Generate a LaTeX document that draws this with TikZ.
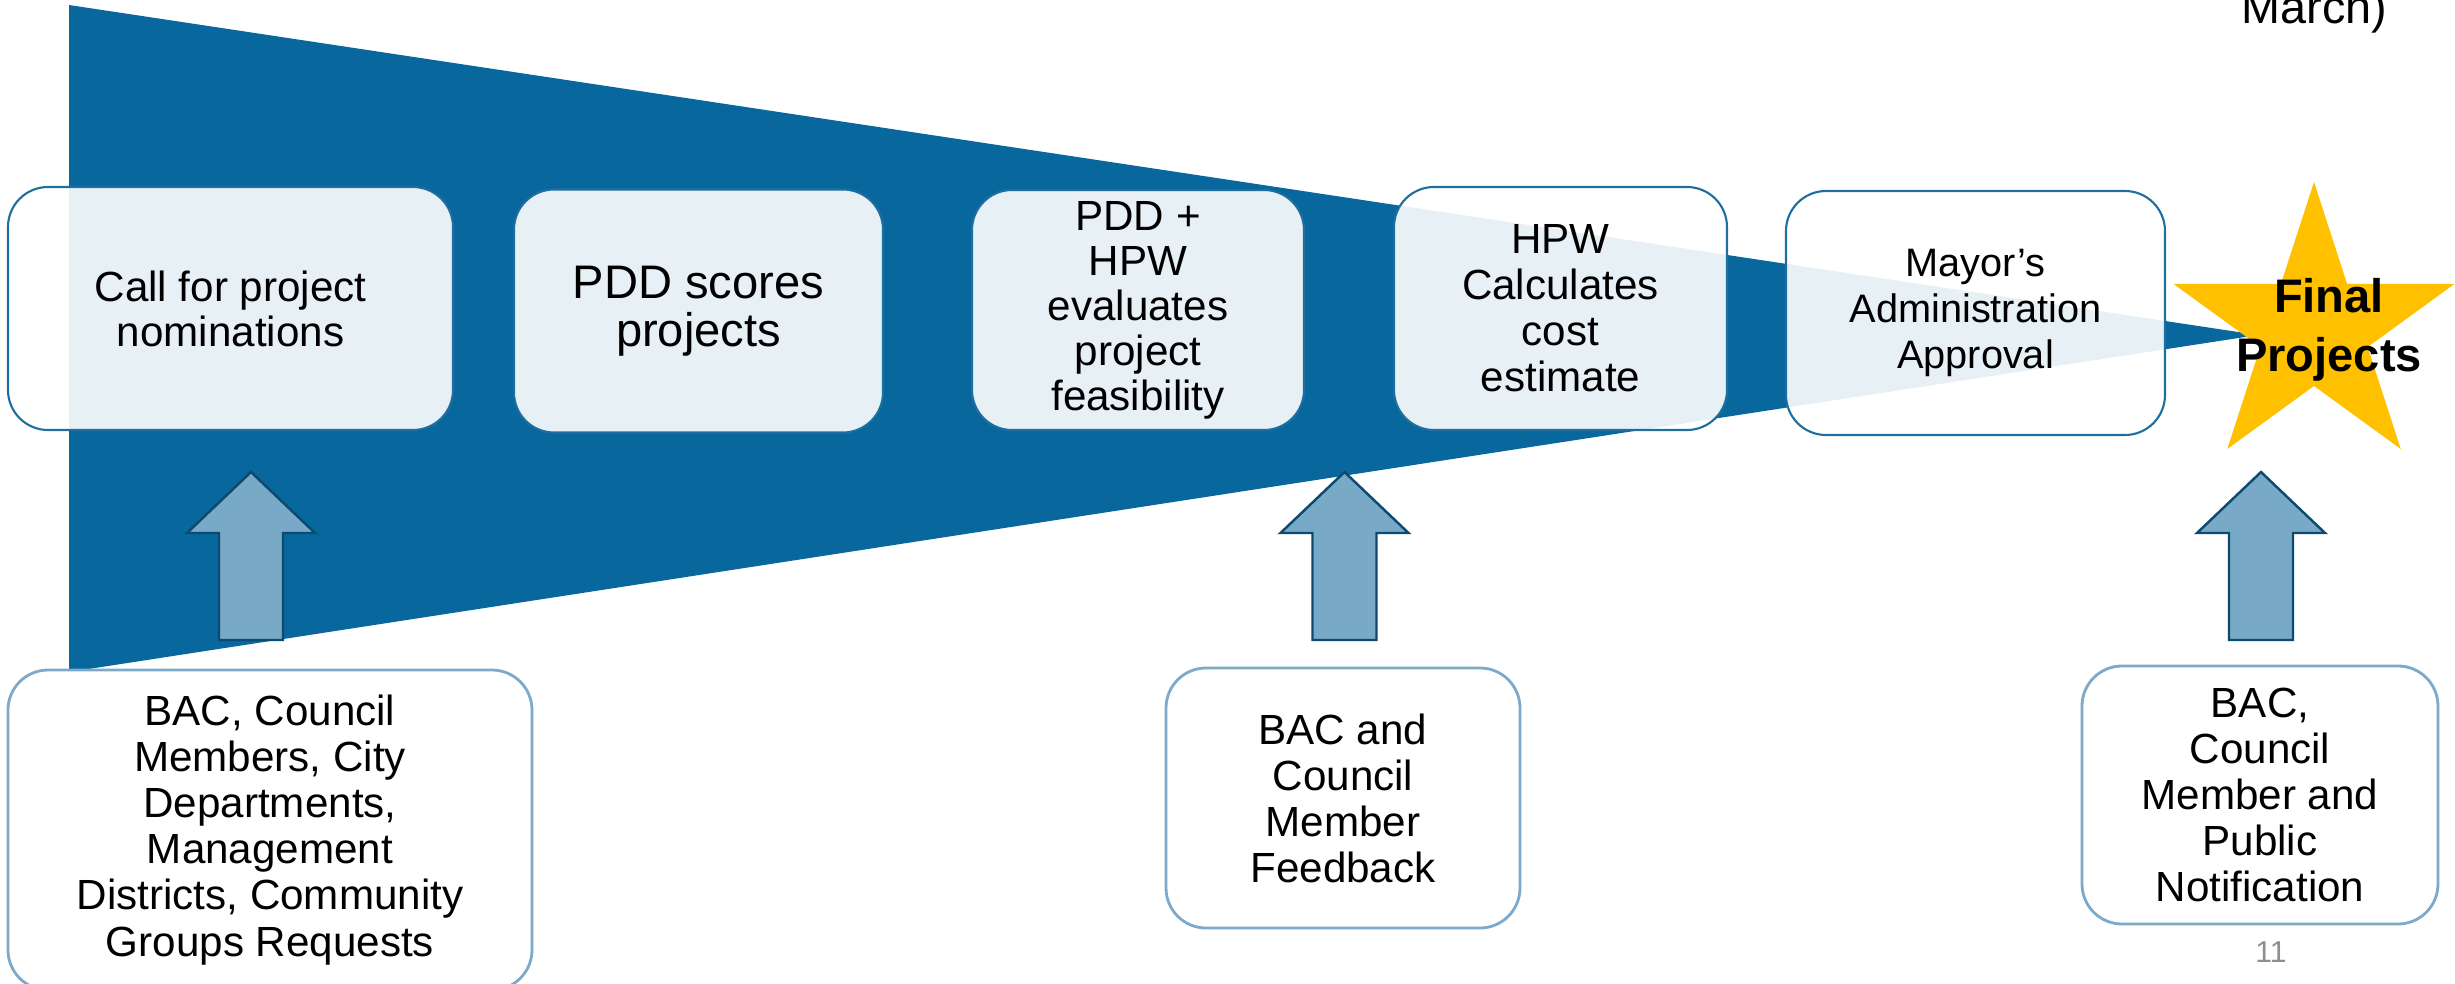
\documentclass[tikz,border=0pt]{standalone}
\usepackage{fontspec}
\setmainfont{Liberation Sans}
\usetikzlibrary{shapes.geometric,calc}
\definecolor{funnelblue}{RGB}{8,103,156}
\definecolor{boxline}{RGB}{30,110,160}
\definecolor{inputline}{RGB}{125,170,202}
\definecolor{arrowfill}{RGB}{120,169,199}
\definecolor{arrowline}{RGB}{13,74,112}
\definecolor{stargold}{RGB}{255,192,0}
\definecolor{pagegrey}{RGB}{143,143,143}
\tikzset{
  stagebox/.style={draw=boxline, line width=0.6pt, fill=white, fill opacity=0.9,
    text opacity=1, rounded corners=0.4cm, align=center, inner sep=0pt},
  inputbox/.style={draw=inputline, line width=0.8pt, fill=white,
    rounded corners=0.4cm, align=center, inner sep=0pt},
  blockarrow/.style={draw=arrowline, fill=arrowfill, line width=0.7pt, line join=miter},
}
\newcommand{\blockup}[2]{%
  \draw[blockarrow] ($(#1)+(-0.32,0)$) -- ($(#2)+(-0.32,-0.61)$) -- ++(-0.32,0)
    -- (#2) -- ++(0.64,-0.61) -- ++(-0.32,0) -- ($(#1)+(0.32,0)$) -- cycle;}
\begin{document}
\begin{tikzpicture}
  \useasboundingbox (0,0) rectangle (24.55,9.83);
  % funnel
  \fill[funnelblue] (0.69,9.78) -- (22.58,6.48) -- (0.69,3.11) -- cycle;
  % stages
  \node[stagebox, minimum width=4.45cm, minimum height=2.43cm,
    font=\fontsize{12}{12.8}\selectfont] (call) at (2.305,6.745)
    {Call for project\\nominations};
  \node[stagebox, minimum width=3.69cm, minimum height=2.43cm,
    font=\fontsize{13.4}{13.8}\selectfont] (score) at (6.985,6.72)
    {PDD scores\\projects};
  \node[stagebox, minimum width=3.32cm, minimum height=2.40cm,
    font=\fontsize{12}{12.8}\selectfont] (feasible) at (11.38,6.73)
    {PDD +\\HPW\\evaluates\\project\\feasibility};
  \node[stagebox, minimum width=3.33cm, minimum height=2.43cm,
    font=\fontsize{12}{13.1}\selectfont] (cost) at (15.605,6.745)
    {HPW\\Calculates\\cost\\estimate};
  \node[stagebox, minimum width=3.79cm, minimum height=2.44cm,
    font=\fontsize{11.3}{13.2}\selectfont] (mayor) at (19.755,6.70)
    {Mayor’s\\Administration\\Approval};
  \node[star, star points=5, star point ratio=2.618, minimum size=2.952cm,
    inner sep=0pt, fill=stargold] (final) at (23.14,6.534) {};
  \node[font=\bfseries\fontsize{13.4}{16.9}\selectfont, align=center]
    (finaltext) at (23.29,6.53) {Final\\Projects};
  % inputs
  \node[inputbox, minimum width=5.24cm, minimum height=3.20cm,
    font=\fontsize{12}{13.1}\selectfont] (requests) at (2.70,1.53)
    {BAC, Council\\Members, City\\Departments,\\Management\\Districts, Community\\Groups Requests};
  \node[inputbox, minimum width=3.54cm, minimum height=2.60cm,
    font=\fontsize{12}{13.1}\selectfont] (feedback) at (13.43,1.85)
    {BAC and\\Council\\Member\\Feedback};
  \node[inputbox, minimum width=3.56cm, minimum height=2.58cm,
    font=\fontsize{12}{13.1}\selectfont] (notice) at (22.60,1.88)
    {BAC,\\Council\\Member and\\Public\\Notification};
  % arrows
  \coordinate (a1) at (2.51,3.43);   \coordinate (t1) at (2.51,5.11);
  \coordinate (a2) at (13.445,3.43); \coordinate (t2) at (13.445,5.11);
  \coordinate (a3) at (22.61,3.43);  \coordinate (t3) at (22.61,5.11);
  \blockup{a1}{t1}
  \blockup{a2}{t2}
  \blockup{a3}{t3}
  % page
  \node[text=pagegrey, font=\fontsize{8.6}{10}\selectfont] (page) at (22.71,0.305) {11};
  \node[font=\fontsize{13.3}{15}\selectfont, anchor=base] (month) at (23.145,9.60) {March)};
\end{tikzpicture}
\end{document}
